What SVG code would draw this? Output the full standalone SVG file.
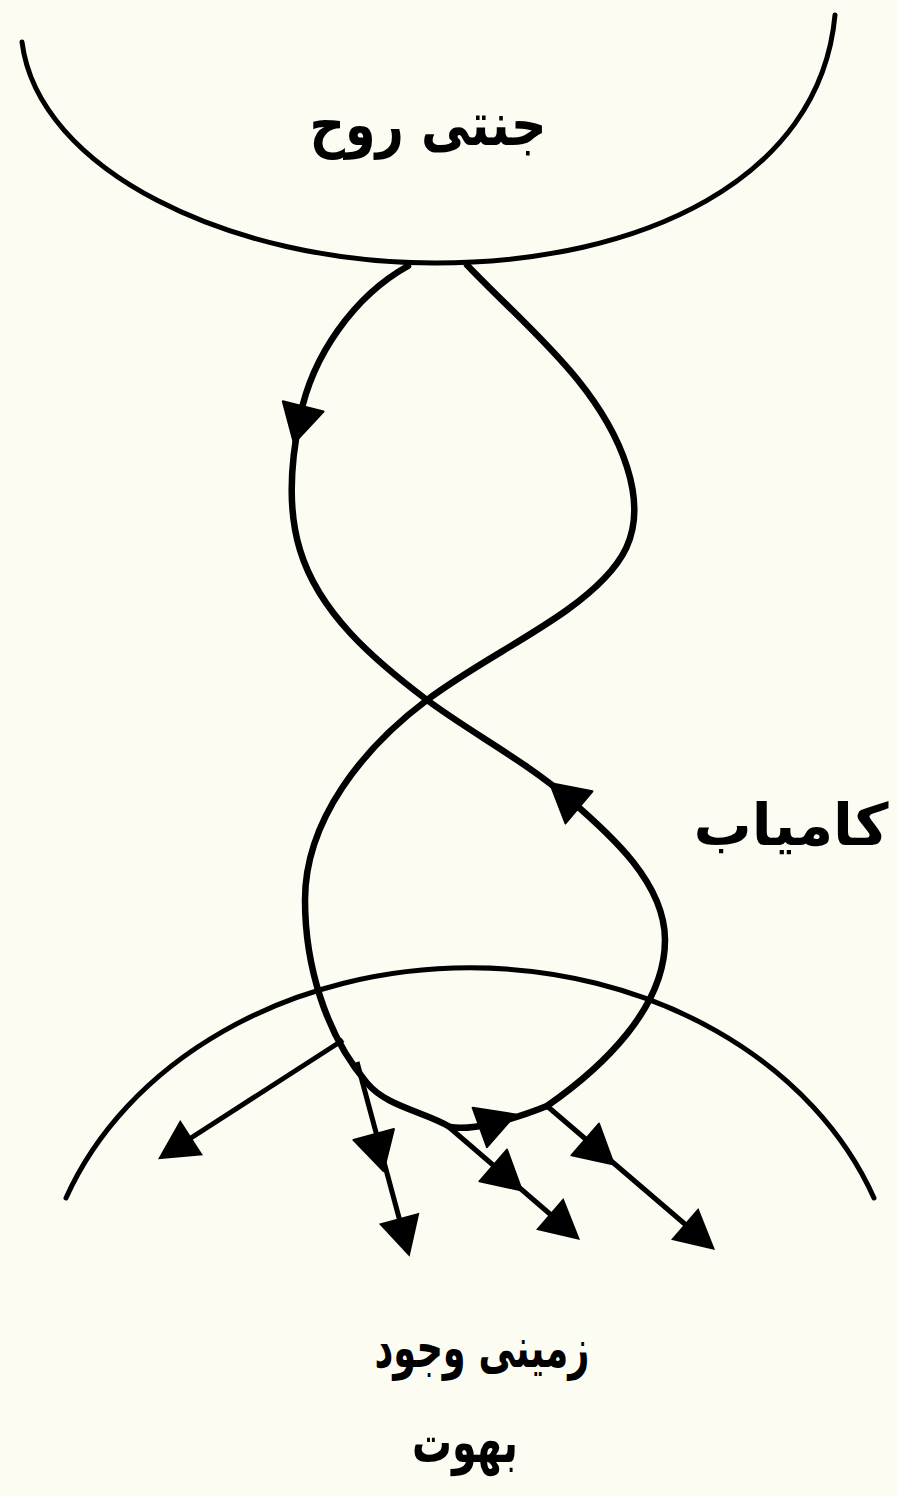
<svg xmlns="http://www.w3.org/2000/svg" xmlns:xlink="http://www.w3.org/1999/xlink" width="898" height="1496" viewBox="0 0 898 1496">
  <style>
    .bg { fill: #fcfcf2; }
    .arc { fill: none; stroke: #000; stroke-width: 5; stroke-linecap: round; }
    .loop { fill: none; stroke: #000; stroke-width: 6.5; stroke-linecap: round; stroke-linejoin: round; }
    .ray { fill: none; stroke: #000; stroke-width: 5; stroke-linecap: butt; }
    .head { fill: #000; stroke: #000; stroke-width: 2; stroke-linejoin: round; }
    .lbl { font-family: "DejaVu Sans", "Noto Sans", sans-serif; fill: #000; text-anchor: middle; font-weight: bold; }
  </style>
  <defs>
    <marker id="ah" viewBox="-36 -23 44 46" refX="0" refY="0" markerWidth="44" markerHeight="46" markerUnits="userSpaceOnUse" orient="auto">
      <path d="M6,0 L-34,-21 L-34,21 z" fill="#000"/>
    </marker>
    <path id="tri" d="M25,0 L-13,-21 L-13,21 z"/>
  </defs>

  <rect class="bg" x="0" y="0" width="898" height="1496"/>

  <g id="heaven">
    <path class="arc" d="M22,42 C38,170 230,263 435,263 C640,263 820,180 835,15"/>
    <text class="lbl" x="428" y="145" font-size="60" textLength="237" lengthAdjust="spacingAndGlyphs">جنتی روح</text>
  </g>

  <g id="earth">
    <path class="arc" d="M66,1198 A430 350 0 0 1 874,1198"/>
    <text class="lbl" x="482" y="1367" font-size="56" textLength="215" lengthAdjust="spacingAndGlyphs">زمینی وجود</text>
    <text class="lbl" x="465" y="1462" font-size="58" textLength="106" lengthAdjust="spacingAndGlyphs">بھوت</text>
  </g>

  <g id="success-label">
    <text class="lbl" x="791" y="845" font-size="58">کامیاب</text>
  </g>

  <g id="connectors">
    <!-- descending branch: heaven -> crossing -> lower right lobe -->
    <path class="loop" d="M408,266 C354,296 312,356 300,417 C291,460 287,508 300,550 C319,613 374,660 427,700 C473,734 525,761 568,798 C611,835 665,883 665,940 C665,1008 603,1067 547,1106"/>
    <!-- returning branch: heaven -> crossing -> lower left lobe -->
    <path class="loop" d="M467,265 C526,327 601,385 627,467 C648,533 624,569 567,610 C522,642 471,667 427,700 C363,748 305,820 305,900 C305,964 325,1034 367,1083 C387,1107 423,1111 450,1127"/>
    <!-- bottom of the lower loop -->
    <path class="loop" d="M450,1127 C472,1131 512,1120 547,1106"/>

    <!-- rays leaving the loop -->
    <path class="ray" d="M343,1040 L163,1156" marker-end="url(#ah)"/>
    <path class="ray" d="M357,1062 L408,1251" marker-end="url(#ah)"/>
    <path class="ray" d="M450,1128 L575.5,1236" marker-end="url(#ah)"/>
    <path class="ray" d="M547,1106 L710.5,1246" marker-end="url(#ah)"/>

    <!-- arrowheads along the paths -->
    <use xlink:href="#tri" href="#tri" class="head" transform="translate(300,419) rotate(104)"/>
    <use xlink:href="#tri" href="#tri" class="head" transform="translate(569,799) rotate(220)"/>
    <use xlink:href="#tri" href="#tri" class="head" transform="translate(492,1123) rotate(-20)"/>
    <use xlink:href="#tri" href="#tri" class="head" transform="translate(377,1147) rotate(75)"/>
    <use xlink:href="#tri" href="#tri" class="head" transform="translate(503,1174) rotate(41)"/>
    <use xlink:href="#tri" href="#tri" class="head" transform="translate(595,1148) rotate(41)"/>
  </g>
</svg>
